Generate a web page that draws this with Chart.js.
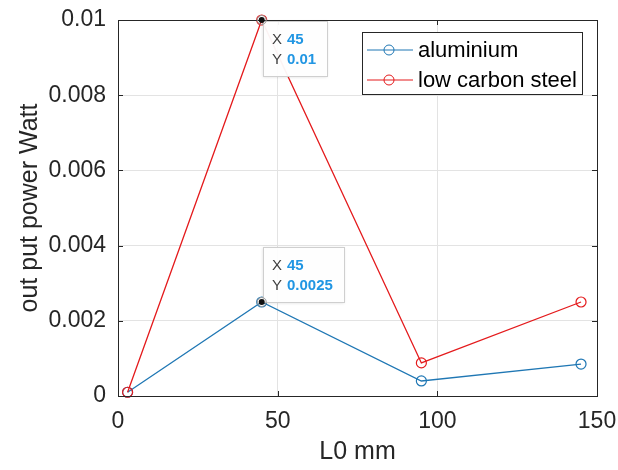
<!DOCTYPE html>
<html>
<head>
<meta charset="utf-8">
<script src="https://cdn.jsdelivr.net/npm/chart.js@4.4.0/dist/chart.umd.min.js"></script>
<style>
  html, body { margin: 0; padding: 0; background: #fff; }
  #wrap { width: 618px; height: 470px; }
</style>
</head>
<body>
<div id="wrap"><canvas id="powerChart" width="618" height="470"></canvas></div>
<script>
// data
const xL0 = [3, 45, 95, 145];
const aluminium = [0.0001, 0.0025, 0.0004, 0.00085];
const lowCarbonSteel = [0.0001, 0.01, 0.00088, 0.0025];
const seriesNames = ['aluminium', 'low carbon steel'];
const xTicks = [0, 50, 100, 150];
const yTicks = [0, 0.002, 0.004, 0.006, 0.008, 0.01];

// data tips: [dataset, point index]
const dataTips = [[1, 1], [0, 1]];

const blue = '#1f77b4';
const red = '#e41a1c';
const FONT = 'Arial, "Liberation Sans", Helvetica, sans-serif';

function pts(ys) {
    return xL0.map((x, i) => ({ x: x, y: ys[i] }));
}

function fmt(v) {
    return String(Number(v.toFixed(4)));
}

// box, inward ticks, legend and data tips drawn after the chart
const matlabLook = {
    id: 'matlabLook',
    afterDraw(chart) {
        const ctx = chart.ctx;
        const a = chart.chartArea;
        const xs = chart.scales.x, ys = chart.scales.y;
        ctx.save();

        // axes box
        ctx.strokeStyle = '#262626';
        ctx.lineWidth = 1;
        ctx.strokeRect(Math.round(a.left) + 0.5, Math.round(a.top) + 0.5,
            Math.round(a.right - a.left), Math.round(a.bottom - a.top));

        // inward ticks
        ctx.beginPath();
        xTicks.forEach(t => {
            const px = Math.round(xs.getPixelForValue(t)) + 0.5;
            ctx.moveTo(px, a.bottom); ctx.lineTo(px, a.bottom - 5);
            ctx.moveTo(px, a.top); ctx.lineTo(px, a.top + 5);
        });
        yTicks.forEach(t => {
            const py = Math.round(ys.getPixelForValue(t)) + 0.5;
            ctx.moveTo(a.left, py); ctx.lineTo(a.left + 5, py);
            ctx.moveTo(a.right, py); ctx.lineTo(a.right - 5, py);
        });
        ctx.stroke();

        // legend
        const lg = { left: 362, top: 32, w: 220, h: 62 };
        ctx.fillStyle = '#fff';
        ctx.fillRect(lg.left, lg.top, lg.w, lg.h);
        ctx.strokeStyle = '#262626';
        ctx.strokeRect(lg.left + 0.5, lg.top + 0.5, lg.w, lg.h);
        ctx.font = '22px ' + FONT;
        ctx.textBaseline = 'middle';
        chart.data.datasets.forEach((ds, i) => {
            const y = lg.top + 18 + i * 30;
            ctx.strokeStyle = ds.borderColor;
            ctx.lineWidth = 1;
            ctx.beginPath();
            ctx.moveTo(lg.left + 5, y); ctx.lineTo(lg.left + 51, y);
            ctx.stroke();
            ctx.beginPath();
            ctx.arc(lg.left + 27, y, 5, 0, Math.PI * 2);
            ctx.stroke();
            ctx.fillStyle = '#000';
            ctx.textAlign = 'left';
            ctx.fillText(ds.label, lg.left + 56, y + 1);
        });

        // data tips
        dataTips.forEach(([di, pi]) => {
            const el = chart.getDatasetMeta(di).data[pi];
            const raw = chart.data.datasets[di].data[pi];
            const px = el.x, py = el.y;
            const xTxt = fmt(raw.x), yTxt = fmt(raw.y);
            ctx.font = 'bold 15px ' + FONT;
            const vw = Math.max(ctx.measureText(xTxt).width, ctx.measureText(yTxt).width);
            const w = Math.round(24 + vw + 11), h = 55;
            const bx = Math.round(px) + 1;
            let by = Math.round(py) - h;
            if (by < a.top) by = Math.round(py) + 1;

            ctx.shadowColor = 'rgba(0,0,0,0.15)';
            ctx.shadowBlur = 3;
            ctx.shadowOffsetY = 1;
            ctx.fillStyle = 'rgba(255,255,255,0.95)';
            ctx.fillRect(bx, by, w, h);
            ctx.shadowColor = 'transparent';
            ctx.strokeStyle = '#cfcfcf';
            ctx.lineWidth = 1;
            ctx.strokeRect(bx + 0.5, by + 0.5, w, h);

            ctx.textAlign = 'left';
            ctx.textBaseline = 'middle';
            ctx.font = '15px ' + FONT;
            ctx.fillStyle = '#404040';
            ctx.fillText('X', bx + 9, by + 19);
            ctx.fillText('Y', bx + 9, by + 39);
            ctx.font = 'bold 15px ' + FONT;
            ctx.fillStyle = '#2196e3';
            ctx.fillText(xTxt, bx + 24, by + 19);
            ctx.fillText(yTxt, bx + 24, by + 39);

            // marker dot with a light ring
            ctx.strokeStyle = '#9a9a9a';
            ctx.lineWidth = 1;
            ctx.beginPath();
            ctx.arc(px, py, 4.5, 0, Math.PI * 2);
            ctx.stroke();
            ctx.fillStyle = '#111';
            ctx.beginPath();
            ctx.arc(px, py, 3, 0, Math.PI * 2);
            ctx.fill();
        });

        ctx.restore();
    }
};

const ctx = document.getElementById('powerChart').getContext('2d');
const powerChart = new Chart(ctx, {
    type: 'line',
    data: {
        datasets: [{
            label: seriesNames[0],
            data: pts(aluminium),
            order: 1,
            clip: false,
            borderColor: blue,
            backgroundColor: 'rgba(0,0,0,0)',
            borderWidth: 1.3,
            pointRadius: 5,
            pointBorderWidth: 1.2,
            pointBorderColor: blue,
            pointBackgroundColor: 'rgba(0,0,0,0)',
            tension: 0
        }, {
            label: seriesNames[1],
            data: pts(lowCarbonSteel),
            order: 0,
            clip: false,
            borderColor: red,
            backgroundColor: 'rgba(0,0,0,0)',
            borderWidth: 1.3,
            pointRadius: 5,
            pointBorderWidth: 1.2,
            pointBorderColor: red,
            pointBackgroundColor: 'rgba(0,0,0,0)',
            tension: 0
        }]
    },
    options: {
        responsive: false,
        devicePixelRatio: 1,
        animation: false,
        layout: { padding: { left: 0, top: 20, right: 21, bottom: 0 } },
        plugins: {
            legend: { display: false },
            tooltip: { enabled: false }
        },
        scales: {
            x: {
                type: 'linear',
                min: 0,
                max: 150,
                afterBuildTicks: s => { s.ticks = xTicks.map(v => ({ value: v })); },
                afterFit: s => { s.height = 74; s.paddingLeft = 0; s.paddingRight = 0; },
                grid: { color: '#e3e3e3', drawTicks: false },
                border: { display: false },
                ticks: {
                    color: '#262626',
                    padding: 12,
                    maxRotation: 0,
                    font: { family: FONT, size: 23 },
                    callback: v => fmt(v)
                },
                title: {
                    display: true,
                    text: 'L0 mm',
                    color: '#262626',
                    font: { family: FONT, size: 25 },
                    padding: { top: 0, bottom: 3 }
                }
            },
            y: {
                min: 0,
                max: 0.01,
                afterBuildTicks: s => { s.ticks = yTicks.map(v => ({ value: v })); },
                afterFit: s => { s.width = 118; s.paddingTop = 0; s.paddingBottom = 0; },
                grid: { color: '#e3e3e3', drawTicks: false },
                border: { display: false },
                ticks: {
                    color: '#262626',
                    padding: 12,
                    font: { family: FONT, size: 23 },
                    callback: v => fmt(v)
                },
                title: {
                    display: true,
                    text: 'out put power Watt',
                    color: '#262626',
                    font: { family: FONT, size: 25 },
                    padding: { top: 15, bottom: 0 }
                }
            }
        }
    },
    plugins: [matlabLook]
});
</script>
</body>
</html>
